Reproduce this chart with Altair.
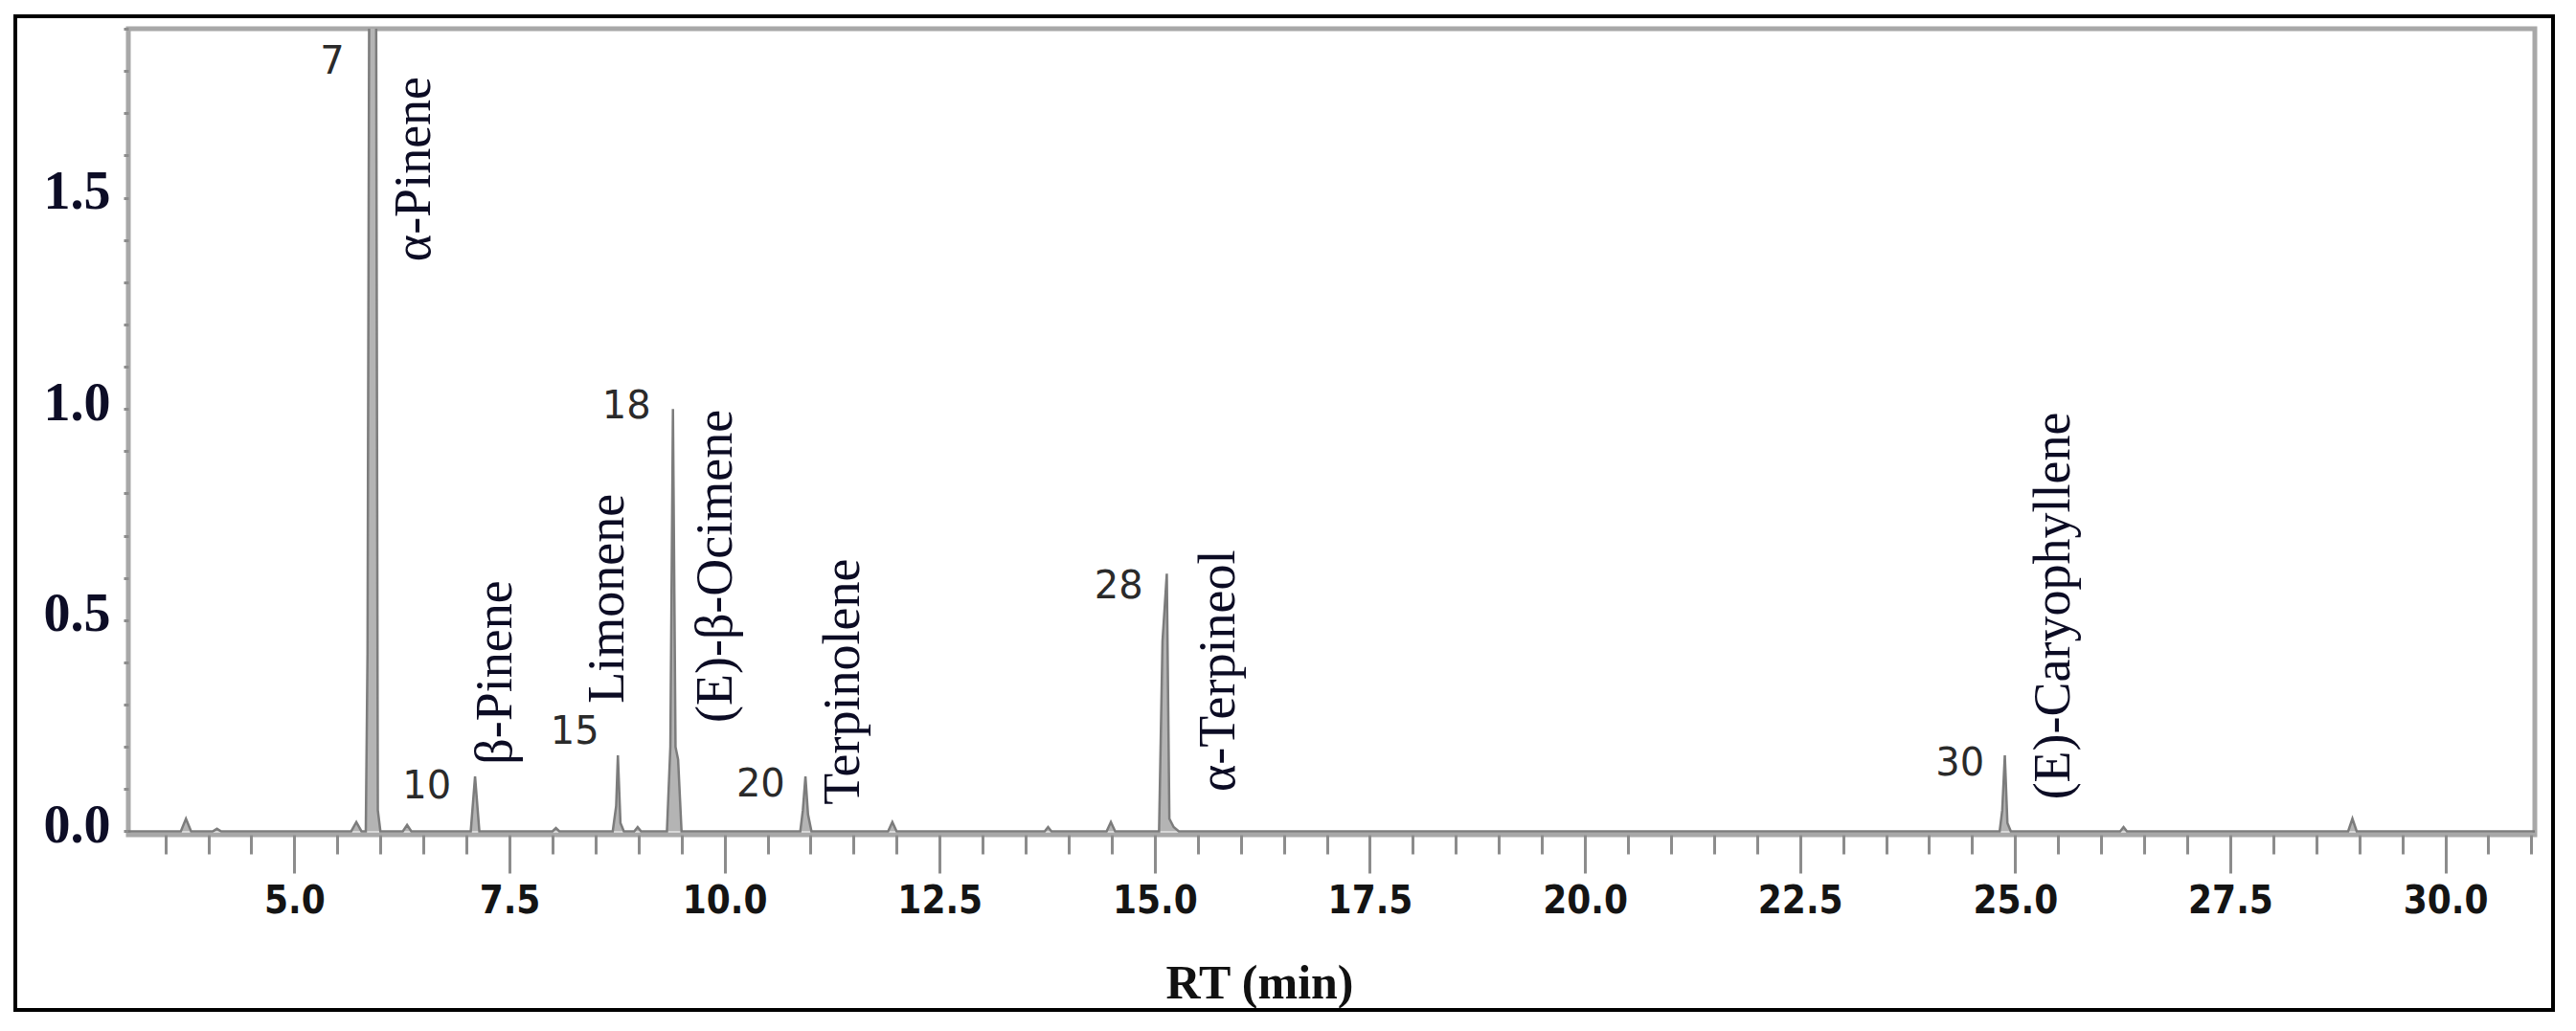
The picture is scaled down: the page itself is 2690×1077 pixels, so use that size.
import altair as alt
import pandas as pd

# chromatogram trace (retention time in min, signal)
rt = [3.07, 3.68, 3.74, 3.80, 4.05, 4.10, 4.15,
      5.66, 5.72, 5.78, 5.83, 5.85, 5.87, 5.95, 5.97, 6.00,
      6.26, 6.31, 6.36,
      7.05, 7.10, 7.15,
      8.00, 8.04, 8.08,
      8.70, 8.74, 8.76, 8.79, 8.83,
      8.95, 8.99, 9.03,
      9.33, 9.37, 9.40, 9.43, 9.46, 9.50,
      10.88, 10.91, 10.94, 10.97, 11.01,
      11.90, 11.95, 12.00,
      13.72, 13.76, 13.80,
      14.44, 14.49, 14.54,
      15.05, 15.09, 15.14, 15.17, 15.22, 15.28,
      24.82, 24.85, 24.88, 24.91, 24.95,
      26.22, 26.26, 26.30,
      28.87, 28.92, 28.97,
      31.04]
signal = [0.0, 0.0, 0.03, 0.0, 0.0, 0.006, 0.0,
          0.0, 0.022, 0.0, 0.0, 0.42, 2.0, 2.0, 0.05, 0.0,
          0.0, 0.015, 0.0,
          0.0, 0.13, 0.0,
          0.0, 0.008, 0.0,
          0.0, 0.06, 0.18, 0.02, 0.0,
          0.0, 0.01, 0.0,
          0.0, 0.2, 1.0, 0.2, 0.17, 0.0,
          0.0, 0.05, 0.13, 0.04, 0.0,
          0.0, 0.022, 0.0,
          0.0, 0.01, 0.0,
          0.0, 0.022, 0.0,
          0.0, 0.45, 0.61, 0.03, 0.01, 0.0,
          0.0, 0.05, 0.18, 0.02, 0.0,
          0.0, 0.01, 0.0,
          0.0, 0.03, 0.0,
          0.0]

# peak numbers and their label anchors (data units)
peak_numbers = ["7", "10", "15", "18", "20", "28", "30"]
num_x = [5.44, 6.54, 8.26, 8.86, 10.42, 14.58, 24.36]
num_y = [1.82, 0.106, 0.235, 1.005, 0.11, 0.58, 0.16]

# compound names and their label anchors (bottom of rotated text)
compound_names = ["α-Pinene", "β-Pinene", "Limonene", "(E)-β-Ocimene",
                  "Terpinolene", "α-Terpineol", "(E)-Caryophyllene"]
name_x = [6.40, 7.34, 8.65, 9.90, 11.38, 15.75, 25.45]
name_y = [1.349, 0.158, 0.303, 0.257, 0.063, 0.094, 0.075]

x_ticks = [round(3.5 + 0.5 * i, 1) for i in range(56)]
y_ticks = [round(0.1 * i, 1) for i in range(20)]

trace = pd.DataFrame({"rt": rt, "signal": signal})
nums = pd.DataFrame({"x": num_x, "y": num_y, "label": peak_numbers})
names = pd.DataFrame({"x": name_x, "y": name_y, "label": compound_names})

x_scale = alt.Scale(domain=[3.07, 31.04], nice=False, zero=False)
y_scale = alt.Scale(domain=[-0.008, 1.9], nice=False, zero=False)

x_axis = alt.Axis(
    values=x_ticks,
    labelExpr="datum.value % 2.5 == 0 ? format(datum.value, '.1f') : ''",
    tickSize={"condition": {"test": "datum.value % 2.5 == 0", "value": 40}, "value": 20},
    tickColor="#8c8c8c", tickWidth=3, domain=False, grid=False,
    labelFont="Liberation Sans Narrow, DejaVu Sans Condensed, Roboto Condensed, Liberation Sans",
    labelFontSize=40, labelFontWeight="bold", labelColor="#141414",
    labelPadding=9, labelOverlap=False, labelFlush=False,
    title="RT (min)", titleFont="Liberation Serif", titleFontSize=50,
    titleFontWeight="bold", titleColor="#111111",
    titleX=1181, titleY=155, titleBaseline="middle", titleAlign="center",
)
y_axis = alt.Axis(
    values=y_ticks,
    labelExpr="abs(datum.value*2 - round(datum.value*2)) < 0.000001 ? format(datum.value, '.1f') : ''",
    tickSize=5, tickColor="#8c8c8c", tickWidth=3, domain=False, grid=False,
    labelFont="Liberation Serif", labelFontSize=56, labelFontWeight="bold",
    labelColor="#0d0d26", labelPadding=14, labelOffset=-6, labelOverlap=False,
    title=None,
)

area = alt.Chart(trace).mark_area(color="#b4b4b4", clip=True).encode(
    x=alt.X("rt:Q", scale=x_scale, axis=x_axis),
    y=alt.Y("signal:Q", scale=y_scale, axis=y_axis),
)
line = alt.Chart(trace).mark_line(color="#7c7c7c", strokeWidth=2.5, clip=True).encode(
    x=alt.X("rt:Q", scale=x_scale),
    y=alt.Y("signal:Q", scale=y_scale),
)
num_text = alt.Chart(nums).mark_text(
    font="DejaVu Sans", fontSize=40, color="#2a2a2a", align="center", baseline="middle"
).encode(x=alt.X("x:Q", scale=x_scale), y=alt.Y("y:Q", scale=y_scale), text="label:N")

name_text = alt.Chart(names).mark_text(
    font="Liberation Serif", fontSize=54, color="#0c0c24", angle=270,
    align="left", baseline="middle"
).encode(x=alt.X("x:Q", scale=x_scale), y=alt.Y("y:Q", scale=y_scale), text="label:N")

frame = alt.Chart(alt.Data(values=[{}])).mark_rect(
    filled=False, stroke="black", strokeWidth=4, clip=False
).encode(x=alt.value(-118), x2=alt.value(2532), y=alt.value(-13), y2=alt.value(1025))

chart = alt.layer(area, line, num_text, name_text, frame).properties(
    width=2513, height=842,
    autosize=alt.AutoSizeParams(type="none"),
    padding={"left": 126, "top": 22, "right": 30, "bottom": 190},
    background="white",
).configure_view(stroke="#a8a8a8", strokeWidth=5)

chart.save("out.html", embed_options={"renderer": "svg", "actions": False})
